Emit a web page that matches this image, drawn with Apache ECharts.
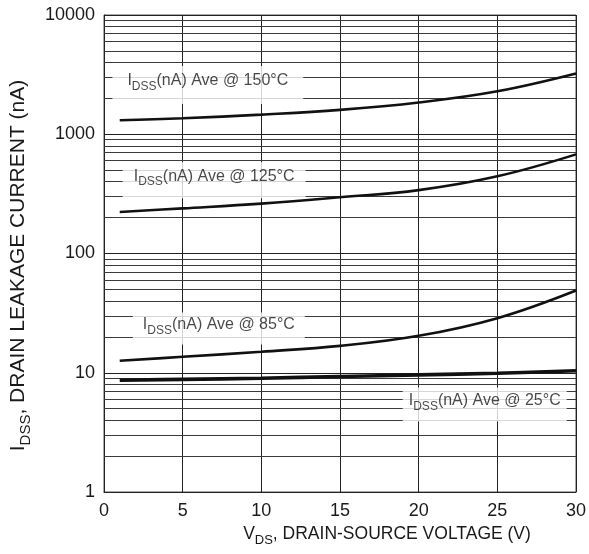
<!DOCTYPE html>
<html>
<head>
<meta charset="utf-8">
<script src="https://cdn.jsdelivr.net/npm/echarts@6/dist/echarts.min.js"></script>
<style>
html,body{margin:0;padding:0;background:#fff;}
#chart{width:589px;height:554px;}
</style>
</head>
<body>
<div id="chart"></div>
<script>
// ---- data ----
const vds = [1, 5, 10, 15, 20, 25, 30];
const idss150 = [1310, 1360, 1460, 1600, 1845, 2290, 3230];
const idss125 = [223, 239, 262, 296, 340, 444, 678];
const idss85  = [12.6, 13.6, 15.0, 16.8, 20.4, 28.7, 49];
const idss25  = [8.65, 8.8, 9.0, 9.3, 9.6, 9.9, 10.4];
const curveTemps = ['150', '125', '85', '25'];
const xTicks = [0, 5, 10, 15, 20, 25, 30];
const yTicks = ['1', '10', '100', '1000', '10000'];
const minorLevels = [2,3,4,5,6,7,8,9, 20,30,40,50,60,70,80,90, 200,300,400,500,600,700,800,900, 2000,3000,4000,5000,6000,7000,8000,9000];

// annotation anchors (data coordinates)
const labelAnchorV = [6.6, 7.0, 7.3, 24.2];
const labelAnchorI = [2590, 412, 23.5, 5.43];

const FONT = '"Liberation Sans", Arial, Helvetica, sans-serif';
const INK = '#1a1a1a';

function zip(xs, ys){ return xs.map((x,i)=>[x, ys[i]]); }

const curves = [idss150, idss125, idss85, idss25];
const widths = [2.6, 2.6, 2.6, 3.6];

const series = curves.map((arr, k) => ({
  name: curveTemps[k] + '°C',
  type: 'line',
  smooth: 0.4,
  showSymbol: false,
  silent: true,
  data: zip(vds, arr),
  lineStyle: { color: '#111', width: widths[k] },
  z: 5
}));

// minor log grid lines
series.push({
  type: 'line',
  data: [],
  silent: true,
  markLine: {
    silent: true,
    symbol: ['none', 'none'],
    label: { show: false },
    lineStyle: { color: '#3a3a3a', width: 1, type: 'solid' },
    animation: false,
    data: minorLevels.map(v => ({ yAxis: v }))
  },
  z: 1
});

const pads = [[11, 15], [10, 11], [8, 10], [9, 6]];
series.push({
  type: 'scatter',
  symbolSize: 0,
  silent: true,
  z: 10,
  data: curveTemps.map((t, k) => ({
    value: [labelAnchorV[k], labelAnchorI[k]],
    label: {
      show: true,
      position: 'inside',
      backgroundColor: '#ffffff',
      padding: pads[k],
      formatter: '{m|I}{s|DSS}{m|(nA) Ave @ ' + t + '°C}',
      rich: {
        m: { fontSize: 16, fontFamily: FONT, color: INK, lineHeight: 16, verticalAlign: 'bottom', padding: [0,0,4,0] },
        s: { fontSize: 12, fontFamily: FONT, color: INK, lineHeight: 12, verticalAlign: 'bottom', padding: [8,0,0,0] }
      }
    }
  }))
});

const chart = echarts.init(document.getElementById('chart'), null, { renderer: 'canvas' });
chart.setOption({
  animation: false,
  backgroundColor: '#ffffff',
  grid: { left: 100, right: 11, top: 15, bottom: 62, show: true, borderColor: '#555', borderWidth: 1, backgroundColor: 'transparent' },
  xAxis: {
    type: 'value', min: xTicks[0], max: xTicks[xTicks.length-1], interval: 5,
    axisLine: { show: true, lineStyle: { color: '#222', width: 1 } },
    axisTick: { show: false },
    axisLabel: { fontSize: 18, fontFamily: FONT, color: INK, margin: 10, formatter: v => String(v) },
    splitLine: { show: true, lineStyle: { color: '#222', width: 1 } },
    name: '{m|V}{s|DS}{m|, DRAIN-SOURCE VOLTAGE (V)}',
    nameLocation: 'middle', nameGap: 36,
    nameTextStyle: {
      padding: [0, 0, 0, 94],
      rich: {
        m: { fontSize: 17.5, fontFamily: FONT, color: INK, lineHeight: 18, verticalAlign: 'bottom', padding: [0,0,4,0] },
        s: { fontSize: 13, fontFamily: FONT, color: INK, lineHeight: 13, verticalAlign: 'bottom', padding: [9,0,0,0] }
      }
    }
  },
  yAxis: {
    type: 'log', logBase: 10, min: 1, max: 10000,
    axisLine: { show: true, lineStyle: { color: '#222', width: 1 } },
    axisTick: { show: false },
    axisLabel: { fontSize: 18, fontFamily: FONT, color: INK, margin: 9,
      formatter: v => yTicks[Math.round(Math.log10(v))] },
    splitLine: { show: true, lineStyle: { color: '#222', width: 1 } },
    name: '{m|I}{s|DSS}{m|, DRAIN LEAKAGE CURRENT (nA)}',
    nameLocation: 'middle', nameGap: 71, nameRotate: 90,
    nameTextStyle: {
      padding: [0, 24, 0, 0],
      rich: {
        m: { fontSize: 21, fontFamily: FONT, color: INK, lineHeight: 21, verticalAlign: 'bottom', padding: [0,0,4,0] },
        s: { fontSize: 15, fontFamily: FONT, color: INK, lineHeight: 15, verticalAlign: 'bottom', padding: [10,0,0,0] }
      }
    }
  },
  series: series
});
</script>
</body>
</html>
